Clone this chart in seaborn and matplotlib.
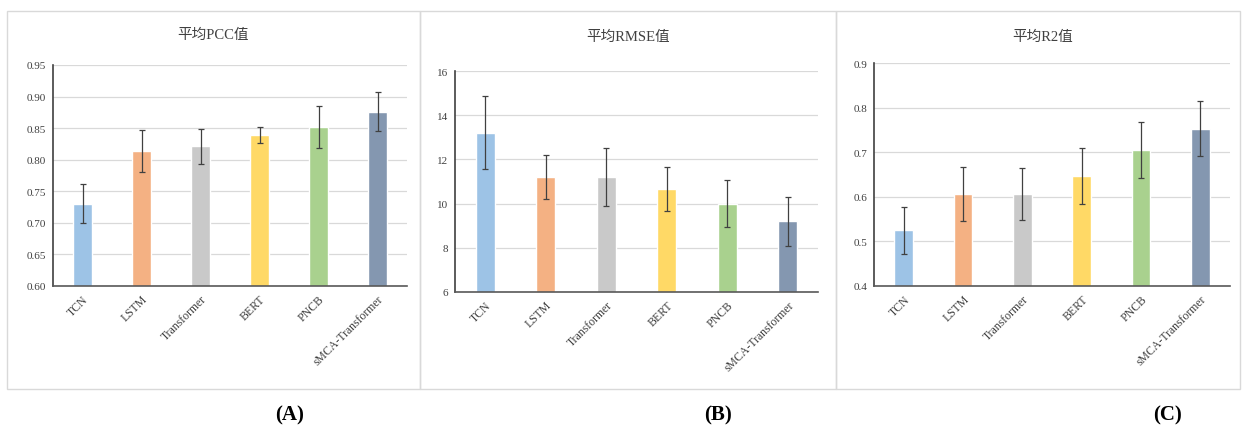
import matplotlib
matplotlib.use("Agg")
import matplotlib.pyplot as plt
import seaborn as sns
import pandas as pd
import numpy as np
from matplotlib.patches import Rectangle

sns.set_theme(style="white")
plt.rcParams['font.family'] = ['Liberation Serif', 'Noto Sans CJK SC', 'DejaVu Sans']

models = ["TCN", "LSTM", "Transformer", "BERT", "PNCB", "sMCA-Transformer"]
colors = ["#9DC3E6", "#F4B183", "#C9C9C9", "#FFD966", "#A9D18E", "#8497B0"]

pcc_mean = [0.730, 0.814, 0.821, 0.839, 0.852, 0.876]
pcc_err = [0.031, 0.033, 0.028, 0.013, 0.033, 0.031]

rmse_mean = [13.2, 11.2, 11.2, 10.65, 10.0, 9.2]
rmse_err = [1.65, 1.0, 1.3, 1.0, 1.07, 1.1]

r2_mean = [0.525, 0.606, 0.606, 0.647, 0.705, 0.753]
r2_err = [0.053, 0.06, 0.058, 0.063, 0.062, 0.062]

titles = ["平均PCC值", "平均RMSE值", "平均R2值"]
panel_labels = ["(A)", "(B)", "(C)"]
yticks_list = [
    [0.60, 0.65, 0.70, 0.75, 0.80, 0.85, 0.90, 0.95],
    [6, 8, 10, 12, 14, 16],
    [0.4, 0.5, 0.6, 0.7, 0.8, 0.9],
]
fmt_list = ["{:.2f}", "{:.0f}", "{:.1f}"]

W, H = 1244, 435
fig = plt.figure(figsize=(W / 100, H / 100), dpi=100)

def px_axes(l, r, t, b):
    return fig.add_axes([l / W, 1 - b / H, (r - l) / W, (b - t) / H])

# panel boxes
boxes = [(7, 420), (420, 836), (836, 1240)]
for (x0, x1) in boxes:
    fig.patches.append(Rectangle((x0 / W, 1 - 390 / H), (x1 - x0) / W, (390 - 12) / H,
                                 transform=fig.transFigure, fill=False,
                                 edgecolor="#D9D9D9", linewidth=1.0))

axes_px = [(53, 407, 66, 287), (455, 818, 72, 293), (874, 1230, 64, 287)]
title_pos = [(213, 35), (628, 37), (1043, 37)]
label_pos = [290, 718, 1168]
datasets = [(pcc_mean, pcc_err), (rmse_mean, rmse_err), (r2_mean, r2_err)]

for i, (means, errs) in enumerate(datasets):
    ax = px_axes(*axes_px[i])
    df = pd.DataFrame({"model": models, "value": means, "err": errs})
    sns.barplot(data=df, x="model", y="value", hue="model", palette=colors,
                order=models, hue_order=models, width=0.32, ax=ax,
                legend=False, errorbar=None, saturation=1)
    xs = np.arange(len(models))
    ax.errorbar(xs, df["value"], yerr=df["err"], fmt="none", ecolor="#404040",
                elinewidth=0.9, capsize=2.5, capthick=0.9, zorder=5)
    yt = yticks_list[i]
    ax.set_ylim(yt[0], yt[-1])
    ax.set_xlim(-0.5, len(models) - 0.5)
    ax.set_yticks(yt)
    ax.set_yticklabels([fmt_list[i].format(v) for v in yt], fontsize=8, color="#404040")
    ax.set_xticks(xs)
    ax.set_xticklabels(models, rotation=45, ha="right", rotation_mode="anchor",
                       fontsize=8.5, color="#404040")
    ax.tick_params(axis="both", length=0, pad=5)
    ax.set_xlabel("")
    ax.set_ylabel("")
    ax.yaxis.grid(True, color="#D9D9D9", linewidth=0.9)
    ax.set_axisbelow(True)
    for s in ["top", "right"]:
        ax.spines[s].set_visible(False)
    ax.spines["left"].set_color("#404040")
    ax.spines["bottom"].set_color("#595959")
    ax.spines["left"].set_linewidth(1.2)
    ax.spines["bottom"].set_linewidth(1.2)
    tx, ty = title_pos[i]
    fig.text(tx / W, 1 - ty / H, titles[i], ha="center", va="center", fontsize=10.5,
             color="#404040", family=['Liberation Serif', 'Noto Sans CJK SC', 'DejaVu Sans'])
    fig.text(label_pos[i] / W, 1 - 415 / H, panel_labels[i], ha="center", va="center",
             fontsize=15, fontweight="bold", color="black", family="Liberation Serif")

fig.savefig("out.png", dpi=100)
